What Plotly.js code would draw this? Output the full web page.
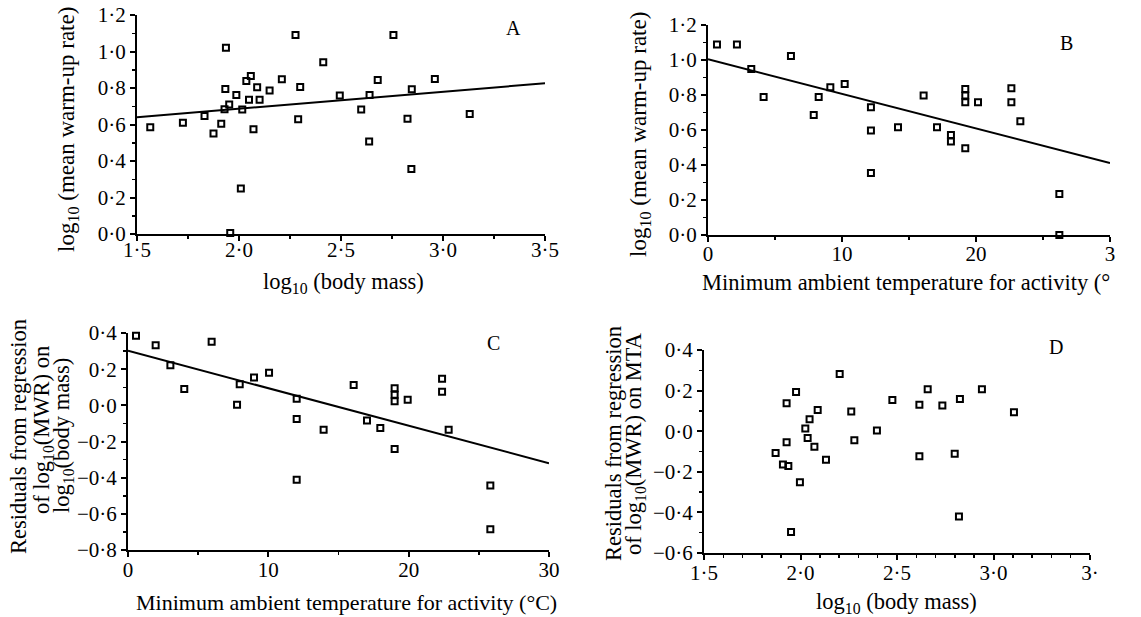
<!DOCTYPE html>
<html>
<head>
<meta charset="utf-8">
<script src="https://cdn.plot.ly/plotly-3.0.1.min.js"></script>
<style>html,body{margin:0;padding:0;background:#fff;}#chart{width:1141px;height:617px;}</style>
</head>
<body>
<div id="chart"></div>
<script>
// ---- Panel A: log10(body mass) vs log10(mean warm-up rate)
const massA = [1.565,1.725,1.831,1.875,1.913,1.936,1.933,1.929,1.952,1.957,1.987,2.009,2.016,2.036,2.058,2.049,2.071,2.089,2.101,2.150,2.210,2.277,2.290,2.300,2.413,2.494,2.599,2.638,2.640,2.680,2.757,2.826,2.847,2.845,2.960,3.131];
const mwrA  = [0.585,0.609,0.647,0.551,0.604,1.021,0.795,0.684,0.709,0.005,0.762,0.250,0.682,0.839,0.866,0.735,0.574,0.804,0.735,0.786,0.848,1.091,0.629,0.806,0.941,0.759,0.682,0.507,0.762,0.844,1.091,0.631,0.793,0.356,0.850,0.658];
const fitA_x = [1.5, 3.5];
const fitA_y = [0.640, 0.826];

// ---- Panel B: MTA vs log10(mean warm-up rate)
const mtaB = [0.67,2.16,3.23,4.15,6.19,7.89,8.26,9.13,10.2,12.16,12.16,12.16,14.18,16.09,17.09,18.13,18.13,19.2,19.2,19.2,19.2,20.15,22.64,22.64,23.31,26.22,26.22];
const mwrB = [1.089,1.089,0.949,0.789,1.023,0.686,0.789,0.844,0.863,0.730,0.597,0.354,0.616,0.797,0.616,0.572,0.534,0.835,0.797,0.759,0.496,0.759,0.838,0.759,0.650,0.234,0.0];
const fitB_x = [0, 30];
const fitB_y = [1.004, 0.411];

// ---- Panel C: MTA vs residuals on body mass
const mtaC = [0.57,1.97,3.02,4.01,5.96,7.77,7.96,8.98,10.05,12.02,12.02,12.02,13.94,16.08,17.03,17.98,19.0,19.0,19.0,19.0,19.93,22.38,22.38,22.85,25.82,25.82];
const resC = [0.385,0.332,0.221,0.090,0.352,0.003,0.116,0.154,0.180,0.036,-0.076,-0.412,-0.135,0.112,-0.084,-0.126,0.095,0.058,0.022,-0.242,0.031,0.147,0.075,-0.135,-0.444,-0.685];
const fitC_x = [0, 30];
const fitC_y = [0.302, -0.320];

// ---- Panel D: log10(body mass) vs residuals on MTA
const massD = [1.871,1.909,1.928,1.928,1.937,1.951,1.977,1.997,2.025,2.037,2.047,2.072,2.089,2.132,2.203,2.263,2.279,2.396,2.476,2.616,2.616,2.659,2.735,2.799,2.826,2.821,2.940,3.106];
const resD  = [-0.108,-0.164,0.138,-0.054,-0.172,-0.497,0.193,-0.252,0.013,-0.034,0.059,-0.077,0.105,-0.141,0.282,0.097,-0.044,0.003,0.154,0.130,-0.123,0.207,0.126,-0.111,0.159,-0.420,0.207,0.093];

// ---- Tick labels
const massTickVals = [1.5,2.0,2.5,3.0,3.5];
const massTickTextA = ['1·5','2·0','2·5','3·0','3·5'];
const massTickTextD = ['1·5','2·0','2·5','3·0','3·'];
const mtaTickVals = [0,10,20,30];
const mtaTickTextB = ['0','10','20','3'];
const mtaTickTextC = ['0','10','20','30'];
const mwrTickVals = [0,0.2,0.4,0.6,0.8,1.0,1.2];
const mwrTickText = ['0·0','0·2','0·4','0·6','0·8','1·0','1·2'];
const resCTickVals = [-0.8,-0.6,-0.4,-0.2,0,0.2,0.4];
const resCTickText = ['−0·8','−0·6','−0·4','−0·2','0·0','0·2','0·4'];
const resDTickVals = [-0.6,-0.4,-0.2,0,0.2,0.4];
const resDTickText = ['−0·6','−0·4','−0·2','0·0','0·2','0·4'];

const W = 1141, H = 617;
const px = v => v / W;
const py = v => 1 - v / H;
const FONT = 'Liberation Serif, Times New Roman, serif';

const marker = {symbol:'square-open', size:6, color:'#000', line:{width:2, color:'#000'}};
function pts(x, y, xa, ya){ return {x:x, y:y, xaxis:xa, yaxis:ya, type:'scatter', mode:'markers', marker:marker, cliponaxis:false, hoverinfo:'x+y'}; }
function fit(x, y, xa, ya){ return {x:x, y:y, xaxis:xa, yaxis:ya, type:'scatter', mode:'lines', line:{color:'#000', width:2}, cliponaxis:false}; }
function empty(xa, ya){ return {x:[], y:[], xaxis:xa, yaxis:ya, type:'scatter', mode:'markers', hoverinfo:'skip'}; }

const data = [
  pts(massA, mwrA, 'x', 'y'), fit(fitA_x, fitA_y, 'x', 'y'),
  pts(mtaB, mwrB, 'x2', 'y2'), fit(fitB_x, fitB_y, 'x2', 'y2'),
  pts(mtaC, resC, 'x3', 'y3'), fit(fitC_x, fitC_y, 'x3', 'y3'),
  pts(massD, resD, 'x4', 'y4'),
  empty('x5', 'y'), empty('x6', 'y2'), empty('x7', 'y3'), empty('x8', 'y4')
];

function ax(domain, range, tv, tt, minorDtick, anchor, showLabels){
  return {
    domain: domain, range: range, anchor: anchor,
    showline: true, linewidth: 2, linecolor: '#000',
    ticks: 'outside', ticklen: 5, tickwidth: 2, tickcolor: '#000',
    tickmode: 'array', tickvals: tv, ticktext: tt, showticklabels: showLabels,
    showgrid: false, zeroline: false, fixedrange: true,
    tickfont: {family: FONT, size: 21, color: '#000'},
    minor: {ticks: 'outside', ticklen: 3, tickwidth: 1.5, tickcolor: '#000', tickmode: 'linear', tick0: range[0], dtick: minorDtick, showgrid: false}
  };
}
// label-only x axis, placed so the labels sit where the reference shows them
function labelAx(domain, range, tv, tt, over, posPx){
  return {
    domain: domain, range: range, overlaying: over, anchor: 'free', position: py(posPx),
    showline: false, ticks: '', showgrid: false, zeroline: false, fixedrange: true,
    tickmode: 'array', tickvals: tv, ticktext: tt,
    tickfont: {family: FONT, size: 21, color: '#000'}
  };
}

function ann(text, x, y, angle, size, extra){
  return Object.assign({text: text, x: px(x), y: py(y), xref: 'paper', yref: 'paper', showarrow: false, textangle: angle || 0,
    font: {family: FONT, size: size, color: '#000'}, xanchor: 'center', yanchor: 'middle'}, extra || {});
}

const dA = [px(137), px(545)], dB = [px(708), px(1110)], dC = [px(128), px(549)], dD = [px(704), px(1090)];

const layout = {
  width: W, height: H,
  margin: {l: 0, r: 0, t: 0, b: 0},
  paper_bgcolor: '#fff', plot_bgcolor: '#fff',
  showlegend: false,
  xaxis:  ax(dA, [1.5, 3.5], massTickVals, massTickTextA, 0.25, 'y', false),
  yaxis:  ax([py(234), py(15)], [0, 1.2], mwrTickVals, mwrTickText, 0.1, 'x', true),
  xaxis2: ax(dB, [0, 30], mtaTickVals, mtaTickTextB, 5, 'y2', false),
  yaxis2: ax([py(235), py(25)], [0, 1.2], mwrTickVals, mwrTickText, 0.1, 'x2', true),
  xaxis3: ax(dC, [0, 30], mtaTickVals, mtaTickTextC, 5, 'y3', false),
  yaxis3: ax([py(550), py(333)], [-0.8, 0.4], resCTickVals, resCTickText, 0.1, 'x3', true),
  xaxis4: ax(dD, [1.5, 3.5], massTickVals, massTickTextD, 0.1, 'y4', false),
  yaxis4: ax([py(553), py(350)], [-0.6, 0.4], resDTickVals, resDTickText, 0.1, 'x4', true),
  xaxis5: labelAx(dA, [1.5, 3.5], massTickVals, massTickTextA, 'x', 235),
  xaxis6: labelAx(dB, [0, 30], mtaTickVals, mtaTickTextB, 'x2', 239),
  xaxis7: labelAx(dC, [0, 30], mtaTickVals, mtaTickTextC, 'x3', 555),
  xaxis8: labelAx(dD, [1.5, 3.5], massTickVals, massTickTextD, 'x4', 558),
  annotations: [
    ann('A', 513, 28, 0, 20),
    ann('B', 1066, 43, 0, 20),
    ann('C', 493, 343, 0, 20),
    ann('D', 1056, 347, 0, 20),
    ann('log<sub>10</sub> (mean warm-up rate)', 68, 130, -90, 23),
    ann('log<sub>10</sub> (body mass)', 343, 283, 0, 22.5),
    ann('log<sub>10</sub> (mean warm-up rate)', 640, 135, -90, 23),
    ann('Minimum ambient temperature for activity (°', 700, 282, 0, 22.5, {xanchor: 'left'}),
    ann('Residuals from regression', 18, 437, -90, 22.5),
    ann('of log<sub>10</sub>(MWR) on', 43, 430, -90, 22.5),
    ann('log<sub>10</sub>(body mass)', 63, 436, -90, 22.5),
    ann('Minimum ambient temperature for activity (°C)', 346, 602, 0, 22),
    ann('Residuals from regression', 613, 444, -90, 22.5),
    ann('of log<sub>10</sub>(MWR) on MTA', 635, 444, -90, 22.5),
    ann('log<sub>10</sub> (body mass)', 897, 603, 0, 22.5)
  ]
};

Plotly.newPlot('chart', data, layout, {staticPlot: true, displayModeBar: false});
</script>
</body>
</html>
